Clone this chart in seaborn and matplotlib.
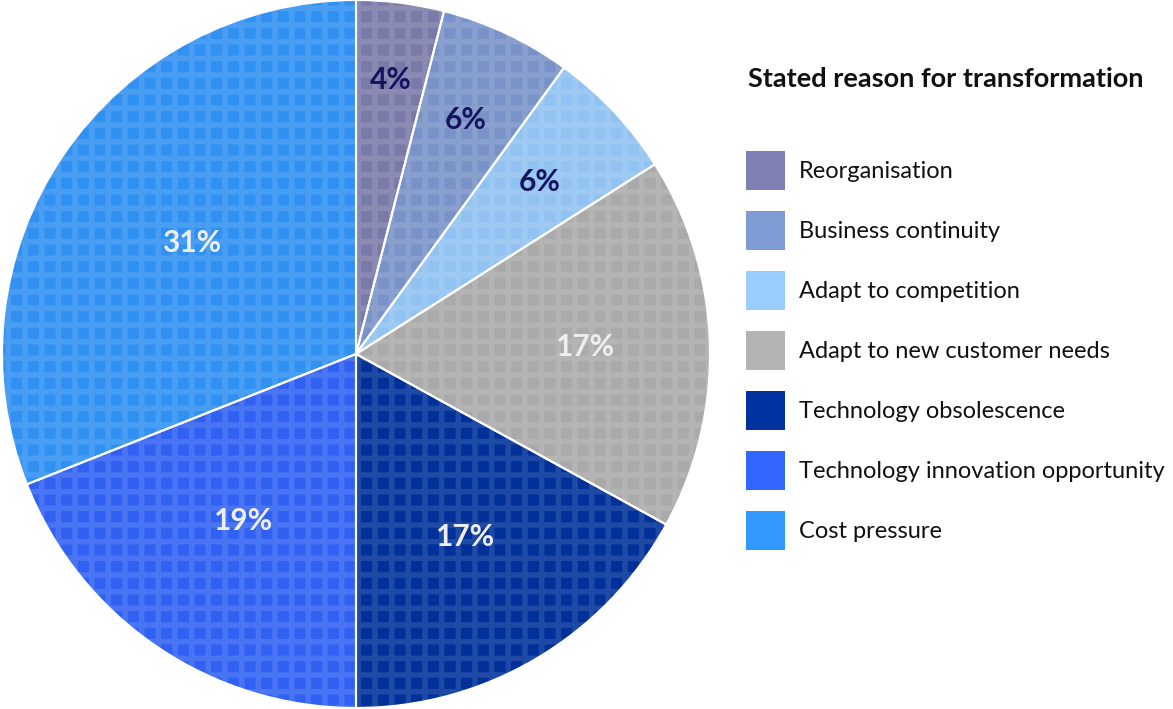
import matplotlib
matplotlib.use("Agg")
import matplotlib.pyplot as plt
import matplotlib.patches as mpatches
import matplotlib.colors as mcolors
import numpy as np
import seaborn as sns

categories = ["Reorganisation", "Business continuity", "Adapt to competition",
              "Adapt to new customer needs", "Technology obsolescence",
              "Technology innovation opportunity", "Cost pressure"]
values = [4, 6, 6, 17, 17, 19, 31]
colors = ["#8080B2", "#7F9BD3", "#99CCFF", "#B3B3B3", "#0033A0", "#3366FF", "#3399FF"]
label_colors = ["#14145F", "#14145F", "#14145F", "#EEEEEE", "#EEEEEE", "#EEEEEE", "#EEEEEE"]
label_radius = [0.78, 0.73, 0.71, 0.645, 0.60, 0.57, 0.56]
title = "Stated reason for transformation"

sns.set_theme(style="white")
plt.rcParams["font.family"] = ["Lato", "DejaVu Sans"]
plt.rcParams["hatch.linewidth"] = 4.0

W, H = 1173, 709
fig = plt.figure(figsize=(W / 100, H / 100), dpi=100)
ax = fig.add_axes([2 / W, 1 / H, 708 / W, 708 / H])

base_cols = [tuple(np.array(mcolors.to_rgb(c)) * 0.95) for c in colors]

wedges, texts, autotexts = ax.pie(
    values, colors=base_cols, startangle=90, counterclock=False,
    autopct=lambda p: f"{p:.0f}%", pctdistance=0.6,
    wedgeprops=dict(linewidth=0),
    textprops=dict(fontsize=21.5, fontweight="bold"))

# texture overlay
ax.pie(values, colors=["none"] * len(values), startangle=90, counterclock=False,
       wedgeprops=dict(linewidth=0, edgecolor=(1, 1, 1, 0.12), hatch="+"))
# white separators
ax.pie(values, colors=["none"] * len(values), startangle=90, counterclock=False,
       wedgeprops=dict(linewidth=1.5, edgecolor="white", fill=False))

for w, t, r, lc in zip(wedges, autotexts, label_radius, label_colors):
    ang = np.deg2rad((w.theta1 + w.theta2) / 2)
    t.set_position((r * np.cos(ang), r * np.sin(ang)))
    t.set_color(lc)
    t.set_zorder(10)

ax.set_xlim(-1, 1)
ax.set_ylim(-1, 1)
ax.set_aspect("equal")
ax.axis("off")

fig.text(748 / W, 1 - 79 / H, title, fontsize=19.5, fontweight="bold",
         color="#111111", va="center", ha="left")

fs = 17
fs_px = fs * 100 / 72
box = 39
hh = (box / fs_px - 0.245) / 0.65
handles = [mpatches.Patch(facecolor=c, edgecolor="none") for c in colors]
leg = fig.legend(handles, categories, loc="upper left",
                 bbox_to_anchor=(746 / W, 1 - 151 / H),
                 frameon=False, fontsize=fs, borderpad=0, borderaxespad=0,
                 handlelength=box / fs_px, handleheight=hh,
                 handletextpad=14 / fs_px, labelspacing=(60 - box) / fs_px)
for t in leg.get_texts():
    t.set_color("#111111")

fig.savefig("out.png", dpi=100)
